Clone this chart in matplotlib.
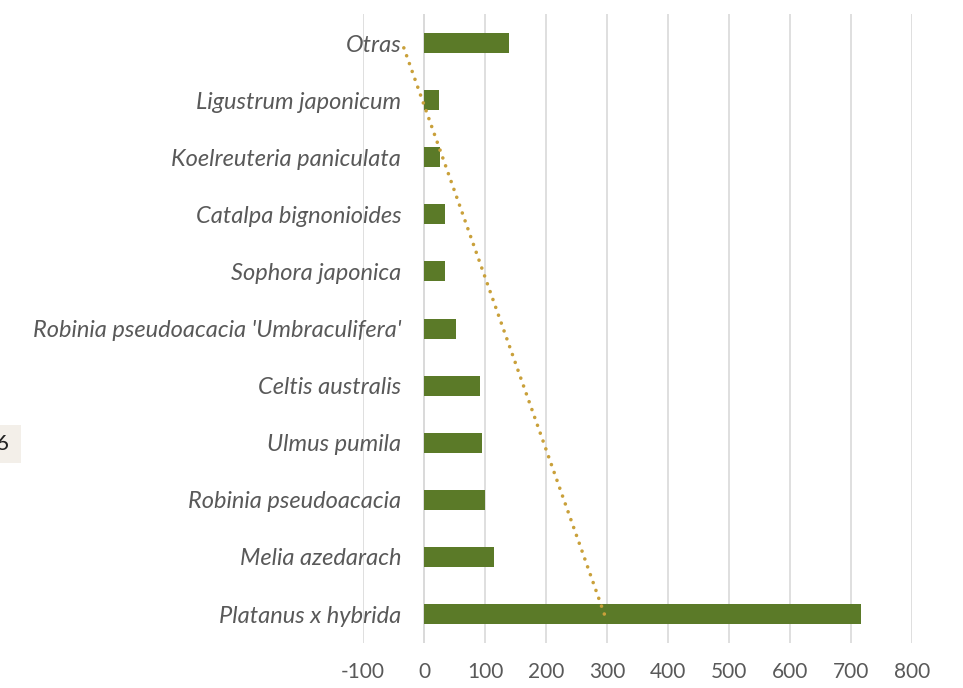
import matplotlib
matplotlib.use("Agg")
import matplotlib.pyplot as plt
from matplotlib.patches import Rectangle
import numpy as np

# especies (de abajo hacia arriba) y numero de ejemplares
especies = ["Platanus x hybrida", "Melia azedarach", "Robinia pseudoacacia",
            "Ulmus pumila", "Celtis australis", "Robinia pseudoacacia 'Umbraculifera'",
            "Sophora japonica", "Catalpa bignonioides", "Koelreuteria paniculata",
            "Ligustrum japonicum", "Otras"]
valores = [716, 115, 100, 95, 92, 52, 34, 34, 26, 25, 139]
ticks_x = [-100, 0, 100, 200, 300, 400, 500, 600, 700, 800]

verde = "#5b7a28"
dorado = "#c9a03a"
gris_texto = "#595959"
gris_rejilla = "#d9d9d9"

plt.rcParams['font.family'] = ['Lato', 'DejaVu Sans']

fig = plt.figure(figsize=(9.63, 6.88), dpi=100)
ax = fig.add_axes([0.377, 0.066, 0.570, 0.913])

pos = np.arange(len(especies))
ax.barh(pos, valores, height=0.35, color=verde, zorder=3)

# linea de tendencia lineal (como en Excel)
coef = np.polyfit(pos, valores, 1)
ax.plot(np.polyval(coef, pos[[0, -1]]), pos[[0, -1]], linestyle=(0, (0.01, 2.3)),
        color=dorado, linewidth=2.6, dash_capstyle='round', zorder=4)

ax.set_xlim(-100, 800)
ax.set_ylim(-0.5, len(especies) - 0.5)
ax.set_xticks(ticks_x)
ax.set_xticklabels([str(t) for t in ticks_x])
ax.set_yticks(pos)
ax.set_yticklabels(especies, style='italic', fontsize=17)
ax.grid(axis='x', color=gris_rejilla, linewidth=1.2, zorder=0)
ax.axvline(0, color=gris_rejilla, linewidth=1.2, zorder=1)
for s in ax.spines.values():
    s.set_visible(False)
ax.tick_params(axis='both', length=0, colors=gris_texto)
ax.tick_params(axis='x', labelsize=15, pad=14)
ax.tick_params(axis='y', pad=-27.5)

# recuadro recortado a la izquierda
fig.patches.append(Rectangle((0, 1 - 463 / 688), 21 / 963, 38 / 688,
                             transform=fig.transFigure, facecolor="#f3efe9",
                             edgecolor='none', zorder=0))
fig.text(-4 / 963, 1 - 444 / 688, "6", fontsize=16, color="#222222",
         va='center', ha='left')

fig.savefig("out.png", dpi=100)
